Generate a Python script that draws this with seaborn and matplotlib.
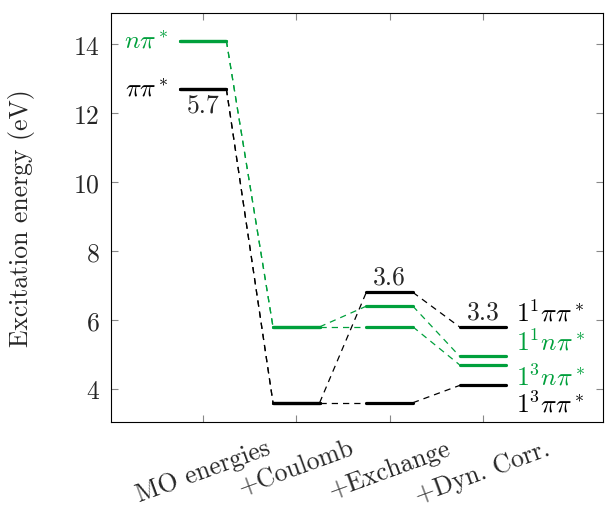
import numpy as np
import matplotlib
matplotlib.use('Agg')
import matplotlib.pyplot as plt
import pandas as pd
import seaborn as sns

# data
steps = ['MO energies', '+Coulomb', '+Exchange', '+Dyn. Corr.']
pipi_singlet = [12.7, 3.6, 6.8, 5.8]
pipi_triplet = [12.7, 3.6, 3.6, 4.1]
npi_singlet = [14.1, 5.8, 6.4, 4.95]
npi_triplet = [14.1, 5.8, 5.8, 4.7]

gaps = ['5.7', '3.6', '3.3']
state_names = [r'$1^1\pi\pi^*$', r'$1^1n\pi^*$', r'$1^3n\pi^*$', r'$1^3\pi\pi^*$']

green = '#00a03c'
states = {
    'pp1': (pipi_singlet, 'black'),
    'pp3': (pipi_triplet, 'black'),
    'np1': (npi_singlet, green),
    'np3': (npi_triplet, green),
}

sns.set_theme(style='ticks')
plt.rcParams['font.family'] = 'serif'
plt.rcParams['font.serif'] = ['cmr10']
plt.rcParams['mathtext.fontset'] = 'cm'
plt.rcParams['axes.formatter.use_mathtext'] = True
plt.rcParams['axes.unicode_minus'] = False

hw = 0.25
lev_rows = []
con_rows = []
for name, (vals, col) in states.items():
    for i, e in enumerate(vals):
        seg = f'{name}_{i}'
        lev_rows.append({'x': i - hw, 'E': e, 'seg': seg, 'c': col})
        lev_rows.append({'x': i + hw, 'E': e, 'seg': seg, 'c': col})
        if i < len(vals) - 1:
            con_rows.append({'x': i + hw, 'E': e, 'seg': seg, 'c': col})
            con_rows.append({'x': i + 1 - hw, 'E': vals[i + 1], 'seg': seg, 'c': col})
levels = pd.DataFrame(lev_rows)
conns = pd.DataFrame(con_rows)

fig, ax = plt.subplots(figsize=(6.05, 5.06), dpi=100)
fig.subplots_adjust(left=0.183, right=0.997, top=0.972, bottom=0.164)

pal = {'black': 'black', green: green}
sns.lineplot(data=conns, x='x', y='E', hue='c', units='seg', estimator=None,
             palette=pal, lw=0.9, dashes=False, linestyle=(0, (5, 4)),
             legend=False, ax=ax, sort=False)
sns.lineplot(data=levels, x='x', y='E', hue='c', units='seg', estimator=None,
             palette=pal, lw=2.3, legend=False, ax=ax, sort=False)

fs = 18.5
# left labels
ax.text(-0.37, npi_singlet[0], r'$n\pi^*$', color=green, ha='right', va='center', fontsize=fs)
ax.text(-0.37, pipi_singlet[0], r'$\pi\pi^*$', color='black', ha='right', va='center', fontsize=fs)

# gap annotations
ax.text(0, pipi_singlet[0] - 0.12, gaps[0], ha='center', va='top', fontsize=fs)
ax.text(2, pipi_singlet[2] + 0.1, gaps[1], ha='center', va='bottom', fontsize=fs)
ax.text(3, pipi_singlet[3] + 0.1, gaps[2], ha='center', va='bottom', fontsize=fs)

# state labels on the right
label_y = [6.23, 5.39, 4.38, 3.57]
label_c = ['black', green, green, 'black']
for s, y, c in zip(state_names, label_y, label_c):
    ax.text(3.36, y, s, color=c, ha='left', va='center', fontsize=fs)

ax.set_xlim(-0.99, 4.29)
ax.set_ylim(3.04, 14.9)
ax.set_xticks(range(len(steps)))
ax.set_xticklabels(steps, rotation=20, ha='center', fontsize=fs)
ax.set_yticks([4, 6, 8, 10, 12, 14])
ax.tick_params(axis='y', labelsize=fs, pad=8)
ax.tick_params(axis='x', pad=10)
ax.tick_params(direction='in', length=5, color='#888888', top=True, right=True, width=0.8)
ax.set_xlabel('')
ax.set_ylabel('Excitation energy (eV)', fontsize=fs, labelpad=27)
for sp in ax.spines.values():
    sp.set_linewidth(0.8)
    sp.set_color('black')

fig.savefig('out.png', dpi=100)
